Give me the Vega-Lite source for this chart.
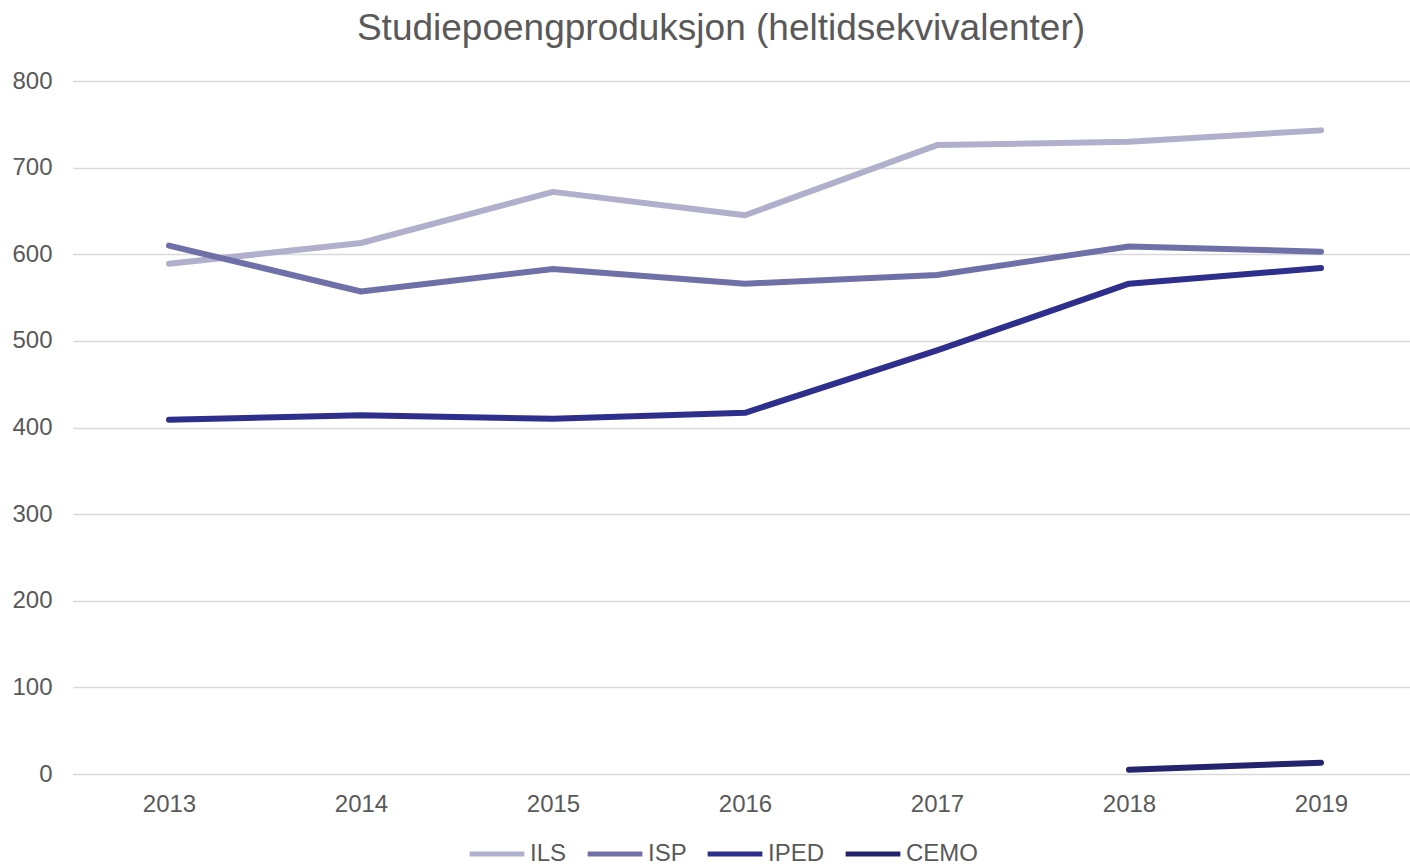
{
  "$schema": "https://vega.github.io/schema/vega-lite/v6.json",
  "autosize": "none",
  "width": 1344,
  "height": 693,
  "padding": {"left": 73, "top": 81, "right": 0, "bottom": 91},
  "background": "white",
  "config": {
    "font": "Liberation Sans",
    "view": {"stroke": null}
  },
  "title": {
    "text": "Studiepoengproduksjon (heltidsekvivalenter)",
    "fontSize": 37,
    "fontWeight": "normal",
    "color": "#595959",
    "anchor": "middle",
    "dx": -24,
    "offset": 21
  },
  "data": {
    "values": [
      {"year": "2013", "unit": "ILS", "value": 589},
      {"year": "2014", "unit": "ILS", "value": 613},
      {"year": "2015", "unit": "ILS", "value": 672},
      {"year": "2016", "unit": "ILS", "value": 645},
      {"year": "2017", "unit": "ILS", "value": 726},
      {"year": "2018", "unit": "ILS", "value": 730},
      {"year": "2019", "unit": "ILS", "value": 743},
      {"year": "2013", "unit": "ISP", "value": 610},
      {"year": "2014", "unit": "ISP", "value": 557},
      {"year": "2015", "unit": "ISP", "value": 583},
      {"year": "2016", "unit": "ISP", "value": 566},
      {"year": "2017", "unit": "ISP", "value": 576},
      {"year": "2018", "unit": "ISP", "value": 609},
      {"year": "2019", "unit": "ISP", "value": 603},
      {"year": "2013", "unit": "IPED", "value": 409},
      {"year": "2014", "unit": "IPED", "value": 414},
      {"year": "2015", "unit": "IPED", "value": 410},
      {"year": "2016", "unit": "IPED", "value": 417},
      {"year": "2017", "unit": "IPED", "value": 489},
      {"year": "2018", "unit": "IPED", "value": 566},
      {"year": "2019", "unit": "IPED", "value": 584},
      {"year": "2018", "unit": "CEMO", "value": 5},
      {"year": "2019", "unit": "CEMO", "value": 13}
    ]
  },
  "mark": {"type": "line", "strokeWidth": 6, "strokeCap": "round", "strokeJoin": "round"},
  "encoding": {
    "x": {
      "field": "year",
      "type": "ordinal",
      "scale": {"type": "point", "padding": 0.5},
      "axis": {
        "title": null,
        "labelAngle": 0,
        "domain": false,
        "ticks": false,
        "grid": false,
        "labelFontSize": 24,
        "labelColor": "#595959",
        "labelPadding": 18
      }
    },
    "y": {
      "field": "value",
      "type": "quantitative",
      "scale": {"domain": [0, 800], "nice": false},
      "axis": {
        "title": null,
        "values": [0, 100, 200, 300, 400, 500, 600, 700, 800],
        "domain": false,
        "ticks": false,
        "grid": true,
        "gridColor": "#d9d9d9",
        "gridWidth": 1.5,
        "labelFontSize": 24,
        "labelColor": "#595959",
        "labelPadding": 21
      }
    },
    "color": {
      "field": "unit",
      "type": "nominal",
      "sort": ["ILS", "ISP", "IPED", "CEMO"],
      "scale": {
        "domain": ["ILS", "ISP", "IPED", "CEMO"],
        "range": ["#b0b0cc", "#7070a8", "#2e2e8c", "#24246e"]
      },
      "legend": {
        "title": null,
        "orient": "none",
        "direction": "horizontal",
        "legendX": 394,
        "legendY": 743,
        "symbolType": "stroke",
        "symbolSize": 3000,
        "symbolStrokeWidth": 5,
        "labelFontSize": 24,
        "labelColor": "#595959",
        "labelOffset": 3,
        "columnPadding": 10
      }
    }
  }
}
